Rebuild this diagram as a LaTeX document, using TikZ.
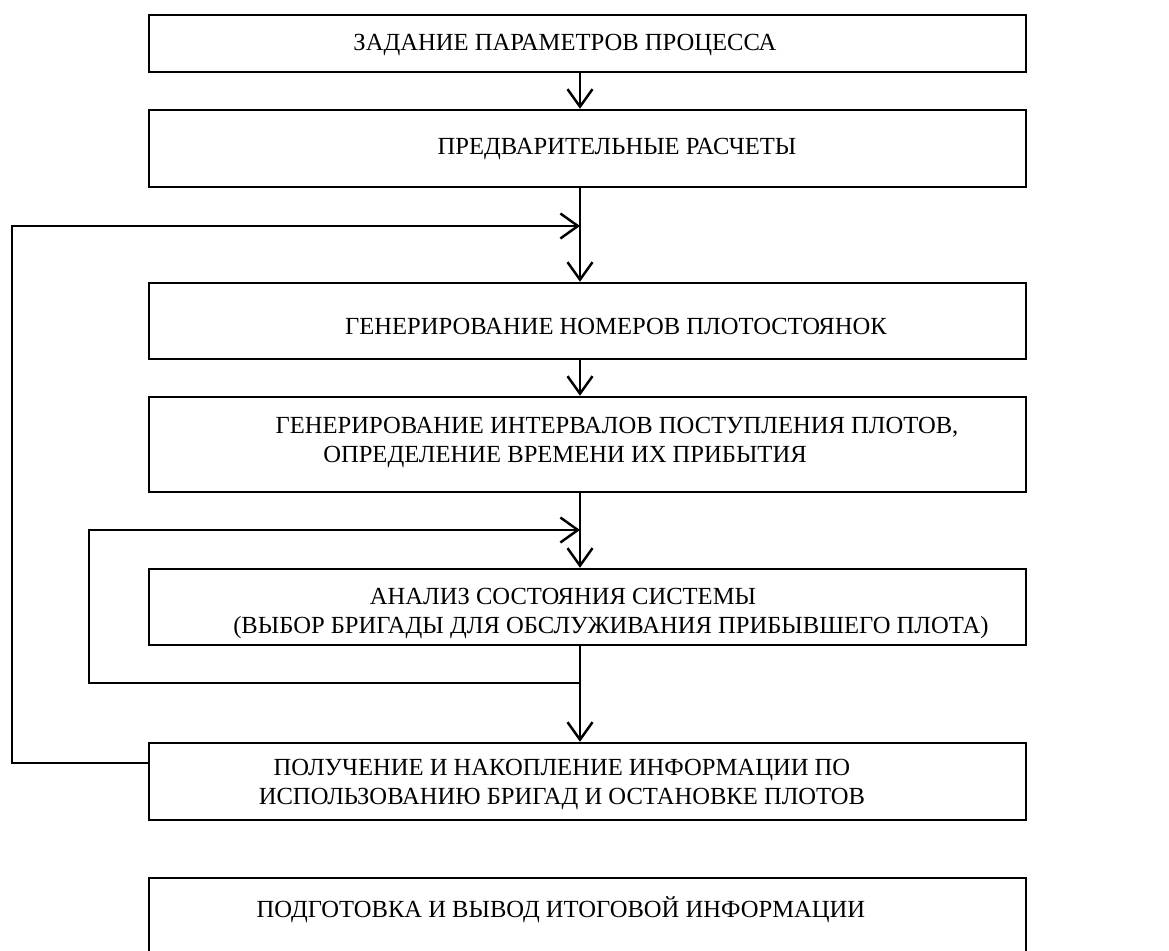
\documentclass[tikz,border=0pt]{standalone}
\usepackage{fontspec}
\setmainfont{Liberation Serif}
\usetikzlibrary{arrows.meta}

\begin{document}
\begin{tikzpicture}[x=0.02cm,y=-0.02cm,
    stage/.style={draw,line width=1.4pt,minimum width=17.54cm,inner sep=0pt},
    caption/.style={align=center,inner sep=0pt,font=\fontsize{14}{16.5}\selectfont},
    flow/.style={line width=1.4pt,-{Straight Barb[length=3.5mm,width=5mm]}}]
  \clip (0,0) rectangle (1169,950);

  % Define points
  \coordinate (spine) at (580,0);
  \coordinate (outS) at (12,763);
  \coordinate (outN) at (12,226);
  \coordinate (inS) at (89,683);
  \coordinate (inN) at (89,530);

  % Stages of the model
  \node[stage,minimum height=1.14cm] (param) at (587.5,43.5) {};
  \node[stage,minimum height=1.54cm] (prelim) at (587.5,148.5) {};
  \node[stage,minimum height=1.52cm] (berth) at (587.5,321) {};
  \node[stage,minimum height=1.9cm] (arrival) at (587.5,444.5) {};
  \node[stage,minimum height=1.52cm] (state) at (587.5,607) {};
  \node[stage,minimum height=1.54cm] (stats) at (587.5,781.5) {};
  \node[stage,minimum height=1.54cm] (report) at (587.5,916.5) {};

  % Texts in the stages
  \node[caption] (param-t) at (565,45) {ЗАДАНИЕ ПАРАМЕТРОВ ПРОЦЕССА};
  \node[caption] (prelim-t) at (617,148.5) {ПРЕДВАРИТЕЛЬНЫЕ РАСЧЕТЫ};
  \node[caption] (berth-t) at (616,326) {ГЕНЕРИРОВАНИЕ НОМЕРОВ ПЛОТОСТОЯНОК};
  \node[caption] (arrival-t) at (617,442.7) {ГЕНЕРИРОВАНИЕ ИНТЕРВАЛОВ ПОСТУПЛЕНИЯ ПЛОТОВ,\\ ОПРЕДЕЛЕНИЕ ВРЕМЕНИ ИХ ПРИБЫТИЯ\hspace*{2.08cm}};
  \node[caption] (state-t) at (611,613.5) {АНАЛИЗ СОСТОЯНИЯ СИСТЕМЫ\hspace*{1.92cm}\\ (ВЫБОР БРИГАДЫ ДЛЯ ОБСЛУЖИВАНИЯ ПРИБЫВШЕГО ПЛОТА)};
  \node[caption] (stats-t) at (562,784.5) {ПОЛУЧЕНИЕ И НАКОПЛЕНИЕ ИНФОРМАЦИИ ПО\\ ИСПОЛЬЗОВАНИЮ БРИГАД И ОСТАНОВКЕ ПЛОТОВ};
  \node[caption] (report-t) at (561,910) {ПОДГОТОВКА И ВЫВОД ИТОГОВОЙ ИНФОРМАЦИИ};

  % Main flow
  \draw[flow] (param.south -| spine) -- (prelim.north -| spine);
  \draw[flow] (prelim.south -| spine) -- (berth.north -| spine);
  \draw[flow] (berth.south -| spine) -- (arrival.north -| spine);
  \draw[flow] (arrival.south -| spine) -- (state.north -| spine);
  \draw[flow] (state.south -| spine) -- (stats.north -| spine);

  % Loops back
  \draw[flow] (spine |- inS) -- (inS) -- (inN) -- (inN -| spine);
  \draw[flow] (stats.west |- outS) -- (outS) -- (outN) -- (outN -| spine);
\end{tikzpicture}
\end{document}
